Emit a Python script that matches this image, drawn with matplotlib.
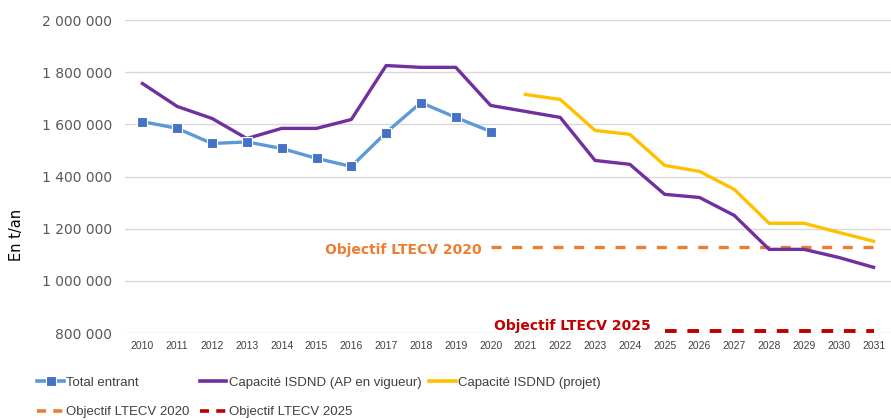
import numpy as np
import matplotlib.pyplot as plt
from matplotlib.lines import Line2D
from matplotlib.ticker import FuncFormatter

# Données (t/an)
years = list(range(2010, 2032))

years_entrant = list(range(2010, 2021))
total_entrant = [1611000, 1585000, 1527000, 1533000, 1508000, 1470000,
                 1439000, 1569000, 1684000, 1627000, 1573000]

cap_ap = [1757000, 1669000, 1623000, 1546000, 1585000, 1585000, 1619000,
          1826000, 1819000, 1819000, 1673000, 1650000, 1627000, 1462000,
          1447000, 1332000, 1320000, 1251000, 1121000, 1121000, 1090000,
          1052000]

years_projet = list(range(2021, 2032))
cap_projet = [1715000, 1696000, 1577000, 1562000, 1443000, 1420000,
              1351000, 1221000, 1221000, 1186000, 1152000]

years_obj2020 = list(range(2020, 2032))
obj2020 = [1130000] * len(years_obj2020)
years_obj2025 = list(range(2025, 2032))
obj2025 = [808000] * len(years_obj2025)

C_BLUE = '#5B9BD5'
C_MARK = '#4472C4'
C_PURPLE = '#7030A0'
C_YELLOW = '#FFC000'
C_ORANGE = '#ED7D31'
C_RED = '#C00000'
FONT = ['Liberation Sans', 'DejaVu Sans']

fig = plt.figure(figsize=(8.91, 4.2), dpi=100)
ax = fig.add_axes([0.1403, 0.207, 0.8597, 0.745])

ax.plot(years_entrant, total_entrant, color=C_BLUE, lw=2.4, marker='s',
        ms=7.5, mfc=C_MARK, mec='white', mew=0.8, zorder=4)
ax.plot(years, cap_ap, color=C_PURPLE, lw=2.4, zorder=3)
ax.plot(years_projet, cap_projet, color=C_YELLOW, lw=2.4, zorder=3)
ax.plot(years_obj2020, obj2020, color=C_ORANGE, lw=2.4, dashes=(3, 3.2), zorder=2)
ax.plot(years_obj2025, obj2025, color=C_RED, lw=2.8, dashes=(3, 2.75), zorder=2)

ax.set_xlim(2009.5, 2031.5)
ax.set_ylim(800000, 2000000)
ax.set_yticks(np.arange(800000, 2000001, 200000))
ax.set_xticks(years)
ax.yaxis.set_major_formatter(FuncFormatter(lambda v, p: f'{int(v):,}'.replace(',', ' ')))
ax.grid(axis='y', color='#D9D9D9', lw=1)
ax.set_axisbelow(True)
for s in ax.spines.values():
    s.set_visible(False)
ax.tick_params(length=0)
ax.tick_params(axis='y', labelsize=10, labelcolor='#595959', pad=9.5)
ax.tick_params(axis='x', labelsize=7.5, labelcolor='#404040', pad=6)
for lab in ax.get_xticklabels():
    lab.set_family(FONT)

fig.text(0.019, 0.44, 'En t/an', rotation=90, va='center', ha='center',
         fontsize=10.5, color='black')

ax.text(2019.75, 1118000, 'Objectif LTECV 2020', color=C_ORANGE, fontsize=10,
        fontweight='bold', ha='right', va='center',
        bbox=dict(facecolor='white', edgecolor='none', pad=1), zorder=5)
ax.text(2024.6, 827000, 'Objectif LTECV 2025', color=C_RED, fontsize=10,
        fontweight='bold', ha='right', va='center', zorder=5)

def h(color, **kw):
    return Line2D([0], [0], color=color, lw=2.6, **kw)

h_entrant = h(C_BLUE, marker='s', ms=7, mfc=C_MARK, mec='white', mew=0.8)
h_ap = h(C_PURPLE)
h_projet = h(C_YELLOW)
h_o20 = h(C_ORANGE, dashes=(2.5, 2))
h_o25 = h(C_RED, dashes=(2.5, 2))

leg_kw = dict(frameon=False, handlelength=2.0, handletextpad=0.2,
              labelspacing=1.3, borderaxespad=0, borderpad=0,
              prop={'family': FONT, 'size': 9.5}, loc='upper left')
l1 = fig.legend([h_entrant, h_o20], ['Total entrant', 'Objectif LTECV 2020'],
                bbox_to_anchor=(0.042, 0.103), **leg_kw)
l2 = fig.legend([h_ap, h_o25], ['Capacité ISDND (AP en vigueur)', 'Objectif LTECV 2025'],
                bbox_to_anchor=(0.224, 0.103), **leg_kw)
l3 = fig.legend([h_projet], ['Capacité ISDND (projet)'],
                bbox_to_anchor=(0.482, 0.103), **leg_kw)
for leg in (l1, l2, l3):
    for t in leg.get_texts():
        t.set_color('#404040')

fig.savefig('out.png', dpi=100)
